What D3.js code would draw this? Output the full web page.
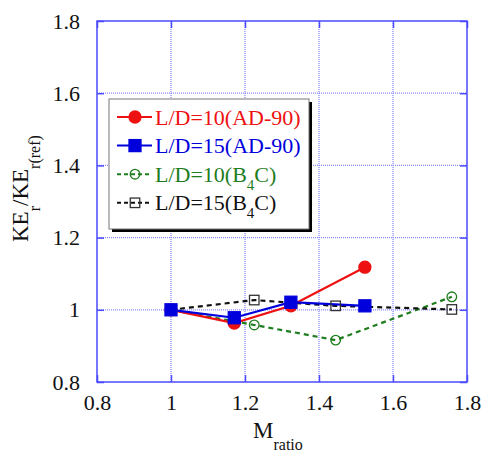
<!DOCTYPE html>
<html lang="en">
<head>
<meta charset="utf-8">
<script src="https://d3js.org/d3.v7.min.js"></script>
<style>
  body { margin: 0; background: white; }
  svg text { font-family: "Liberation Serif", "Times New Roman", serif; }
</style>
</head>
<body>
<div id="chart"></div>
<script>
// data
const mRatioRed = [1.0, 1.171, 1.324, 1.524];
const keRed = [1.0, 0.963, 1.011, 1.118];
const mRatioBlue = [1.0, 1.171, 1.324, 1.524];
const keBlue = [1.0, 0.978, 1.021, 1.011];
const mRatioGreen = [1.0, 1.225, 1.445, 1.759];
const keGreen = [1.0, 0.958, 0.916, 1.036];
const mRatioBlack = [1.0, 1.225, 1.445, 1.759];
const keBlack = [1.0, 1.027, 1.011, 1.001];
const seriesNames = ["L/D=10(AD-90)", "L/D=15(AD-90)", "L/D=10(B4C)", "L/D=15(B4C)"];
const tickVals = [0.8, 1, 1.2, 1.4, 1.6, 1.8];

const W = 481, H = 456;
const margin = { top: 21, right: 14, bottom: 74, left: 97 };
const width = W - margin.left - margin.right,
      height = H - margin.top - margin.bottom;
const FONT = "Liberation Serif";

const series = [
  { name: seriesNames[0], xs: mRatioRed, ys: keRed, color: "#ee1111", dash: null, marker: "circle", fill: true },
  { name: seriesNames[1], xs: mRatioBlue, ys: keBlue, color: "#0000dd", dash: null, marker: "square", fill: true },
  { name: seriesNames[2], xs: mRatioGreen, ys: keGreen, color: "#1e7d1e", dash: "5,4", marker: "circle", fill: false },
  { name: seriesNames[3], xs: mRatioBlack, ys: keBlack, color: "#111111", dash: "5,4", marker: "square", fill: false }
];

const svg = d3.select("#chart").append("svg")
  .attr("width", W).attr("height", H);
const g = svg.append("g").attr("transform", `translate(${margin.left},${margin.top})`);

const x = d3.scaleLinear().domain([0.8, 1.8]).range([0, width]);
const y = d3.scaleLinear().domain([0.8, 1.8]).range([height, 0]);

const fmt = d => d === 1 ? "1" : d3.format(".1f")(d);

// dotted grid
g.append("g").selectAll("line").data(tickVals.slice(1, -1)).join("line")
  .attr("x1", d => x(d)).attr("x2", d => x(d)).attr("y1", 0).attr("y2", height)
  .attr("stroke", "#8a8aff").attr("stroke-width", 1.3).attr("stroke-dasharray", "1,1");
g.append("g").selectAll("line").data(tickVals.slice(1, -1)).join("line")
  .attr("y1", d => y(d)).attr("y2", d => y(d)).attr("x1", 0).attr("x2", width)
  .attr("stroke", "#8a8aff").attr("stroke-width", 1.3).attr("stroke-dasharray", "1,1");

// axes with inward ticks on all sides
const axisColor = "#4a4aff";
function styleAxis(sel) {
  sel.attr("font-family", FONT);
  sel.select(".domain").remove();
  sel.selectAll(".tick line").attr("stroke", axisColor).attr("stroke-width", 1.5);
  sel.selectAll(".tick text").attr("fill", "#111").style("font-size", "22px")
    .style("font-family", FONT);
}
g.append("g").attr("transform", `translate(0,${height})`)
  .call(d3.axisBottom(x).tickValues(tickVals).tickFormat(fmt).tickSize(-7).tickPadding(12))
  .call(styleAxis);
g.append("g")
  .call(d3.axisLeft(y).tickValues(tickVals).tickFormat(fmt).tickSize(-7).tickPadding(17))
  .call(styleAxis);
g.append("g")
  .call(d3.axisTop(x).tickValues(tickVals).tickFormat("").tickSize(-7))
  .call(styleAxis);
g.append("g").attr("transform", `translate(${width},0)`)
  .call(d3.axisRight(y).tickValues(tickVals).tickFormat("").tickSize(-7))
  .call(styleAxis);

g.append("rect").attr("width", width).attr("height", height)
  .attr("fill", "none").attr("stroke", axisColor).attr("stroke-width", 1.5);

// lines and markers
const line = d3.line().x(d => x(d[0])).y(d => y(d[1]));
function drawMarker(sel, s, cx, cy) {
  if (s.marker === "circle") {
    sel.append("circle").attr("cx", cx).attr("cy", cy).attr("r", s.fill ? 6 : 4.8)
      .attr("fill", s.fill ? s.color : "none").attr("stroke", s.color).attr("stroke-width", 1.3);
  } else {
    const a = s.fill ? 12 : 9.5;
    sel.append("rect").attr("x", cx - a / 2).attr("y", cy - a / 2).attr("width", a).attr("height", a)
      .attr("fill", s.fill ? s.color : "none").attr("stroke", s.fill ? s.color : "#333").attr("stroke-width", 1.3);
  }
}
const drawOrder = [2, 3, 0, 1];
drawOrder.forEach(i => {
  const s = series[i];
  const pts = s.xs.map((v, j) => [v, s.ys[j]]);
  g.append("path").datum(pts).attr("d", line)
    .attr("fill", "none").attr("stroke", s.color).attr("stroke-width", 2.2)
    .attr("stroke-dasharray", s.dash);
});
drawOrder.forEach(i => {
  const s = series[i];
  const mg = g.append("g");
  s.xs.forEach((v, j) => drawMarker(mg, s, x(v), y(s.ys[j])));
});

// legend
const lg = svg.append("g").attr("transform", "translate(109,99)");
const lw = 200, lh = 130;
lg.append("rect").attr("x", 3).attr("y", 3).attr("width", lw).attr("height", lh).attr("fill", "#000");
lg.append("rect").attr("width", lw).attr("height", lh).attr("fill", "white")
  .attr("stroke", "#777").attr("stroke-width", 1);
series.forEach((s, i) => {
  const cy = 18 + i * 28.6;
  lg.append("line").attr("x1", 8).attr("x2", 43).attr("y1", cy).attr("y2", cy)
    .attr("stroke", s.color).attr("stroke-width", 2).attr("stroke-dasharray", s.dash ? "4,3" : null);
  drawMarker(lg, s, 26, cy);
  const t = lg.append("text").attr("x", 46).attr("y", cy + 7.5)
    .attr("fill", s.color).style("font-size", "22px").style("font-family", FONT);
  const m = s.name.match(/^(.*\(B)4(C\))$/);
  if (m) {
    t.append("tspan").text(m[1]);
    t.append("tspan").attr("dy", 8).style("font-size", "15px").text("4");
    t.append("tspan").attr("dy", -8).text(m[2]);
  } else {
    t.text(s.name);
  }
});

// axis titles
const xt = svg.append("text").attr("x", 253).attr("y", 438).attr("fill", "#111")
  .style("font-size", "23px").style("font-family", FONT);
xt.append("tspan").text("M");
xt.append("tspan").attr("dy", 12).style("font-size", "16px").text("ratio");

const yt = svg.append("text").attr("transform", "translate(28,242) rotate(-90)")
  .attr("fill", "#111").style("font-size", "23px").style("font-family", FONT);
yt.append("tspan").text("KE");
yt.append("tspan").attr("dy", 12).style("font-size", "16px").text("r");
yt.append("tspan").attr("dy", -12).text("/KE");
yt.append("tspan").attr("dy", 12).style("font-size", "16px").text("r(ref)");
</script>
</body>
</html>
